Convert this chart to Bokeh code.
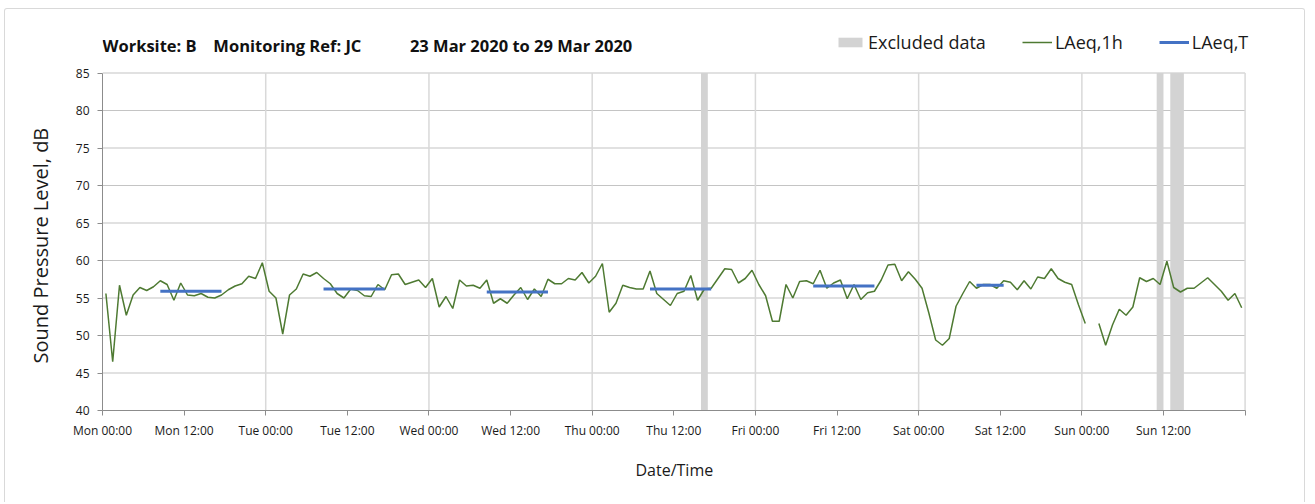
import numpy as np
from bokeh.plotting import figure
from bokeh.models import Range1d, FixedTicker, Label, Legend, LegendItem, Title
from bokeh.embed import file_html
from bokeh.resources import INLINE

FONT = "Open Sans"

# ---------------- data ----------------
tick_labels = ["Mon 00:00", "Mon 12:00", "Tue 00:00", "Tue 12:00", "Wed 00:00",
               "Wed 12:00", "Thu 00:00", "Thu 12:00", "Fri 00:00", "Fri 12:00",
               "Sat 00:00", "Sat 12:00", "Sun 00:00", "Sun 12:00", ""]
tick_hours = [0, 12, 24, 36, 48, 60, 72, 84, 96, 108, 120, 132, 144, 156, 168]
y_ticks = [40, 45, 50, 55, 60, 65, 70, 75, 80, 85]

# hourly LAeq,1h values, Mon 00:00 .. Sun 23:00 (NaN = no data)
laeq_1h = [
    55.6, 46.5, 56.7, 52.7, 55.4, 56.4, 56.0, 56.5, 57.3, 56.8,
    54.7, 57.0, 55.4, 55.3, 55.6, 55.1, 55.0, 55.4, 56.1, 56.6,
    56.9, 57.9, 57.6, 59.7, 55.9, 55.0, 50.2, 55.4,
    56.2, 58.2, 57.9, 58.4, 57.6, 56.9, 55.6, 55.0, 56.2, 56.0,
    55.3, 55.2, 56.8, 56.1, 58.1, 58.2, 56.8, 57.1, 57.4, 56.4,
    57.6, 53.8, 55.2, 53.6, 57.4, 56.6, 56.7, 56.3,
    57.4, 54.3, 54.9, 54.3, 55.4, 56.4, 54.8, 56.2, 55.2, 57.5,
    56.9, 56.9, 57.6, 57.4, 58.4, 57.0, 57.9, 59.6, 53.1, 54.3,
    56.7, 56.4, 56.2, 56.2, 58.6, 55.6, 54.8, 54.0,
    55.6, 55.9, 58.0, 54.7, 56.2, 56.3, 57.6, 58.9, 58.8, 57.0,
    57.6, 58.7, 56.8, 55.3, 51.9, 51.9, 56.8, 55.0, 57.2, 57.3,
    56.9, 58.7, 56.3, 57.0, 57.4, 54.9, 56.8, 54.8,
    55.7, 55.9, 57.4, 59.4, 59.5, 57.3, 58.5, 57.5, 56.3, 53.0,
    49.4, 48.7, 49.6, 53.9, 55.6, 57.2, 56.3, 56.8, 56.8, 56.3,
    57.3, 57.1, 56.1, 57.3, 56.2, 57.8, 57.6, 58.9,
    57.6, 57.1, 56.8, 54.1, 51.6, float("nan"), 51.6, 48.7, 51.4, 53.5,
    52.7, 53.8, 57.7, 57.2, 57.6, 56.8, 59.9, 56.4, 55.8, 56.3,
    56.3, 57.0, 57.7, 56.8, 55.9, 54.7, 55.6, 53.7,
]

# LAeq,T daytime periods (first and last hour index) and values
laeq_t_first = [8, 32, 56, 80, 104, 128]
laeq_t_last = [17, 41, 65, 89, 113, 132]
laeq_t_value = [55.9, 56.2, 55.8, 56.2, 56.6, 56.7]

# excluded data periods (hours from Mon 00:00)
excl_start = [88, 155, 157]
excl_end = [89, 156, 159]

hours = np.arange(len(laeq_1h)) + 0.5
X0, X1 = 0, 168
Y0, Y1 = 40, 85

# ---------------- figure ----------------
p = figure(width=1301, height=494, x_range=Range1d(0, 171), y_range=Range1d(40, 91.2),
           output_backend="svg", toolbar_location=None,
           min_border_left=97, min_border_right=41, min_border_top=17, min_border_bottom=93)
p.styles = {"border": "1px solid #d9d9d9", "border-bottom": "none",
            "border-radius": "3px 3px 0 0",
            "margin-left": "4px", "margin-top": "8px"}
p.outline_line_color = None
p.background_fill_color = "white"
p.border_fill_color = "white"
p.xgrid.grid_line_color = None
p.ygrid.grid_line_color = None

# gridlines drawn within the plot area only
hy = [t for t in y_ticks if t > Y0]
p.segment(x0=[X0] * len(hy), y0=hy, x1=[X1] * len(hy), y1=hy,
          line_color="#c4c4c4", line_width=1.2)
days = list(range(24, 169, 24))
p.segment(x0=days, y0=[Y0] * len(days), x1=days, y1=[Y1] * len(days),
          line_color="#d9d9d9", line_width=1.5)

q = p.quad(left=excl_start, right=excl_end, bottom=Y0, top=Y1,
           fill_color="#d3d3d3", line_color=None)
ln = p.line(hours, laeq_1h, line_color="#4e7a32", line_width=1.5)
sg = p.segment(x0=[a + 0.5 for a in laeq_t_first], y0=laeq_t_value,
               x1=[b + 0.5 for b in laeq_t_last], y1=laeq_t_value,
               line_color="#4472c4", line_width=3)

# axes
p.xaxis.ticker = FixedTicker(ticks=tick_hours)
p.xaxis.major_label_overrides = {h: l for h, l in zip(tick_hours, tick_labels)}
p.xaxis.bounds = (X0, X1)
p.yaxis.ticker = FixedTicker(ticks=y_ticks)
p.yaxis.bounds = (Y0, Y1)

for ax in (p.xaxis[0], p.yaxis[0]):
    ax.axis_line_color = "#8c8c8c"
    ax.major_tick_line_color = "#8c8c8c"
    ax.minor_tick_line_color = None
    ax.major_tick_in = 0
    ax.major_tick_out = 5
    ax.major_label_text_font = FONT
    ax.major_label_text_font_size = "12px"
    ax.major_label_text_color = "#1a1a1a"
p.xaxis.major_label_standoff = 6
p.yaxis.major_label_standoff = 8

# axis titles as side titles so they can be positioned like the reference
p.add_layout(Title(text="Date/Time", align="left", offset=533, standoff=30,
                   text_font=FONT, text_font_size="16px", text_font_style="normal",
                   text_color="#1a1a1a"), "below")
p.add_layout(Title(text="Sound Pressure Level, dB", align="left", offset=47, standoff=37,
                   text_font=FONT, text_font_size="20px", text_font_style="normal",
                   text_color="#1a1a1a"), "left")

# title pieces
ty = 85 + 28 / 7.5
for xh, txt in [(0, "Worksite: B"), (16.3, "Monitoring Ref: JC"),
                (45.2, "23 Mar 2020 to 29 Mar 2020")]:
    p.add_layout(Label(x=xh, y=ty, text=txt, text_font=FONT, text_font_size="16.5px",
                       text_font_style="bold", text_baseline="middle",
                       text_color="#111111"))

legend = Legend(items=[LegendItem(label="Excluded data", renderers=[q]),
                       LegendItem(label="LAeq,1h", renderers=[ln]),
                       LegendItem(label="LAeq,T", renderers=[sg])],
                orientation="horizontal", location=(733, 356))
legend.label_text_font = FONT
legend.label_text_font_size = "18px"
legend.label_text_color = "#1a1a1a"
legend.glyph_width = 30
legend.glyph_height = 12
legend.label_standoff = 3
legend.spacing = 36
legend.padding = 0
legend.margin = 0
legend.label_height = 20
legend.border_line_color = None
legend.background_fill_alpha = 0
p.add_layout(legend)

open("out.html", "w").write(file_html(p, INLINE))
